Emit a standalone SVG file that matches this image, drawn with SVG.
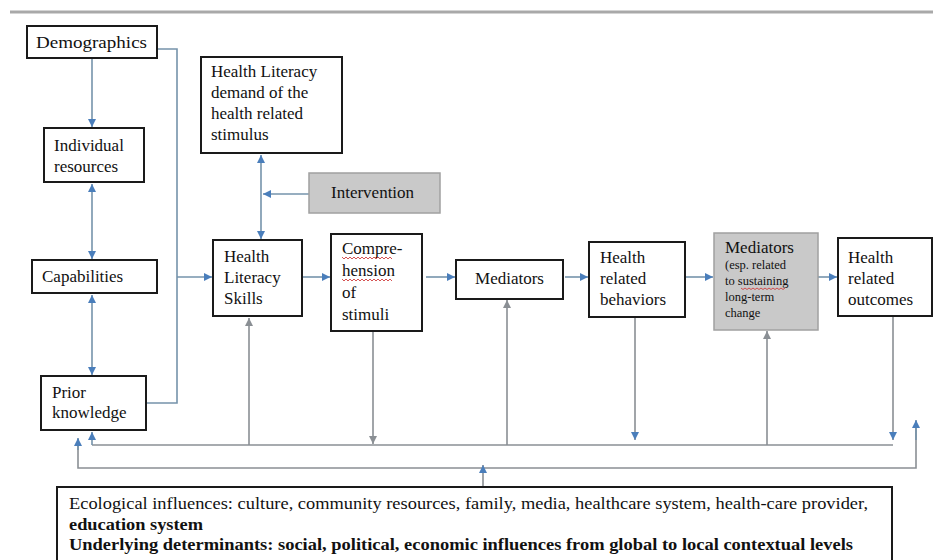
<svg xmlns="http://www.w3.org/2000/svg" width="933" height="560" viewBox="0 0 933 560">
<style>
.box{fill:#fff;stroke:#1a1a1a;stroke-width:2}
.gbox{fill:#c9c9c9;stroke:#a0a0a0;stroke-width:1.5}
.t{font-size:17px;fill:#111}
.s{font-size:12.5px;fill:#111}
.b{font-size:16px;fill:#111}
.bb{font-weight:bold}
.ln{fill:none;stroke:#7593ab;stroke-width:1.6}
.lg{fill:none;stroke:#8a8f94;stroke-width:1.6}
.sq{fill:none;stroke:#d04040;stroke-width:0.9}
</style>
<defs>
<marker id="ab" markerUnits="userSpaceOnUse" markerWidth="9" markerHeight="9" refX="8" refY="4" orient="auto-start-reverse"><path d="M0,0 L8,4 L0,8 z" fill="#4a7ebb"/></marker>
<marker id="ag" markerUnits="userSpaceOnUse" markerWidth="9" markerHeight="9" refX="8" refY="4" orient="auto-start-reverse"><path d="M0,0 L8,4 L0,8 z" fill="#8a8f94"/></marker>
</defs>
<rect width="933" height="560" fill="#fff"/>
<line x1="10" y1="12" x2="933" y2="12" stroke="#a9a9a9" stroke-width="3"/>

<g id="connectors">
<line class="ln" x1="92" y1="58" x2="92" y2="127" marker-end="url(#ab)"/>
<line class="ln" x1="92" y1="184" x2="92" y2="259" marker-start="url(#ab)" marker-end="url(#ab)"/>
<line class="ln" x1="92" y1="295" x2="92" y2="375" marker-start="url(#ab)" marker-end="url(#ab)"/>
<path class="ln" d="M157,49 H177 V403 H146"/>
<line class="ln" x1="177" y1="277" x2="212" y2="277" marker-end="url(#ab)"/>
<line class="ln" x1="261" y1="155" x2="261" y2="239" marker-start="url(#ab)" marker-end="url(#ab)"/>
<line class="ln" x1="309" y1="194" x2="263" y2="194" marker-end="url(#ab)"/>
<line class="ln" x1="302" y1="277" x2="330" y2="277" marker-end="url(#ab)"/>
<line class="ln" x1="426" y1="277" x2="455" y2="277" marker-end="url(#ab)"/>
<line class="ln" x1="565" y1="277" x2="588" y2="277" marker-end="url(#ab)"/>
<line class="ln" x1="685" y1="277" x2="713" y2="277" marker-end="url(#ab)"/>
<line class="ln" x1="818" y1="277" x2="837" y2="277" marker-end="url(#ab)"/>
<path class="lg" d="M92,445 H893"/>
<line class="ln" x1="92" y1="445" x2="92" y2="432" marker-end="url(#ab)"/>
<line class="lg" x1="249" y1="445" x2="249" y2="318" marker-end="url(#ag)"/>
<line class="lg" x1="373" y1="331" x2="373" y2="444" marker-end="url(#ag)"/>
<line class="lg" x1="507" y1="445" x2="507" y2="300" marker-end="url(#ag)"/>
<line class="lg" x1="635" y1="317" x2="635" y2="440" marker-end="url(#ab)"/>
<line class="lg" x1="767" y1="445" x2="767" y2="331" marker-end="url(#ag)"/>
<line class="lg" x1="893" y1="316" x2="893" y2="440" marker-end="url(#ab)"/>
<path class="lg" d="M78,439 V468 H916 V421"/>
<line class="ln" x1="78" y1="450" x2="78" y2="438" marker-end="url(#ab)"/>
<line class="ln" x1="916" y1="440" x2="916" y2="420" marker-end="url(#ab)"/>
<line class="lg" x1="483" y1="487" x2="483" y2="465" marker-end="url(#ab)"/>
</g>

<g font-family="Liberation Serif, Times New Roman, serif">
<g id="demographics">
<rect class="box" x="27" y="26" width="130" height="32"/>
<text class="t" x="36" y="48" textLength="111" lengthAdjust="spacingAndGlyphs">Demographics</text>
</g>
<g id="individual-resources">
<rect class="box" x="44" y="128" width="100" height="54"/>
<text class="t" x="54" y="151">Individual</text>
<text class="t" x="54" y="172">resources</text>
</g>
<g id="capabilities">
<rect class="box" x="32" y="260" width="125" height="33"/>
<text class="t" x="42" y="282">Capabilities</text>
</g>
<g id="prior-knowledge">
<rect class="box" x="41" y="376" width="105" height="54"/>
<text class="t" x="52" y="398">Prior</text>
<text class="t" x="52" y="418">knowledge</text>
</g>
<g id="hl-demand">
<rect class="box" x="201" y="57" width="141" height="96"/>
<text class="t" x="211" y="77">Health Literacy</text>
<text class="t" x="211" y="98">demand of the</text>
<text class="t" x="211" y="119">health related</text>
<text class="t" x="211" y="140">stimulus</text>
</g>
<g id="intervention">
<rect class="gbox" x="309" y="173" width="131" height="40"/>
<text class="t" x="331" y="198">Intervention</text>
</g>
<g id="hl-skills">
<rect class="box" x="213" y="240" width="89" height="76"/>
<text class="t" x="224" y="262">Health</text>
<text class="t" x="224" y="283">Literacy</text>
<text class="t" x="224" y="304">Skills</text>
</g>
<g id="comprehension">
<rect class="box" x="331" y="234" width="91" height="97"/>
<text class="t" x="342" y="254">Compre-</text>
<text class="t" x="342" y="276">hension</text>
<text class="t" x="342" y="298">of</text>
<text class="t" x="342" y="320">stimuli</text>
<path class="sq" d="M342,257 l2,2 l2,-2 l2,2 l2,-2 l2,2 l2,-2 l2,2 l2,-2 l2,2 l2,-2 l2,2 l2,-2 l2,2 l2,-2 l2,2 l2,-2 l2,2 l2,-2 l2,2 l2,-2 l2,2 l2,-2 l2,2 l2,-2 l2,2"/>
<path class="sq" d="M342,279 l2,2 l2,-2 l2,2 l2,-2 l2,2 l2,-2 l2,2 l2,-2 l2,2 l2,-2 l2,2 l2,-2 l2,2 l2,-2 l2,2 l2,-2 l2,2 l2,-2 l2,2 l2,-2 l2,2 l2,-2 l2,2 l2,-2 l2,2"/>
</g>
<g id="mediators">
<rect class="box" x="456" y="260" width="107" height="39"/>
<text class="t" x="509.5" y="284" text-anchor="middle">Mediators</text>
</g>
<g id="health-behaviors">
<rect class="box" x="589" y="242" width="96" height="75"/>
<text class="t" x="600" y="263">Health</text>
<text class="t" x="600" y="284">related</text>
<text class="t" x="600" y="305">behaviors</text>
</g>
<g id="mediators-long-term">
<rect class="gbox" x="714" y="233" width="104" height="97"/>
<text class="t" x="725" y="253">Mediators</text>
<text class="s" x="725" y="269">(esp. related</text>
<text class="s" x="725" y="285">to sustaining</text>
<text class="s" x="725" y="301">long-term</text>
<text class="s" x="725" y="317">change</text>
<path class="sq" d="M741,288 l2,1.5 l2,-1.5 l2,1.5 l2,-1.5 l2,1.5 l2,-1.5 l2,1.5 l2,-1.5 l2,1.5 l2,-1.5 l2,1.5 l2,-1.5 l2,1.5 l2,-1.5 l2,1.5 l2,-1.5 l2,1.5 l2,-1.5 l2,1.5 l2,-1.5 l2,1.5 l2,-1.5"/>
</g>
<g id="health-outcomes">
<rect class="box" x="838" y="238" width="94" height="78"/>
<text class="t" x="848" y="263">Health</text>
<text class="t" x="848" y="284">related</text>
<text class="t" x="848" y="305">outcomes</text>
</g>
<g id="ecological">
<rect class="box" x="57" y="487" width="835" height="90"/>
<text class="b" x="69" y="509" textLength="799" lengthAdjust="spacingAndGlyphs">Ecological influences: culture, community resources, family, media, healthcare system, health-care provider,</text>
<text class="b bb" x="69" y="530" textLength="134" lengthAdjust="spacingAndGlyphs">education system</text>
<text class="b bb" x="69" y="550" textLength="784" lengthAdjust="spacingAndGlyphs">Underlying determinants: social, political, economic influences from global to local contextual levels</text>
</g>
</g>
</svg>
